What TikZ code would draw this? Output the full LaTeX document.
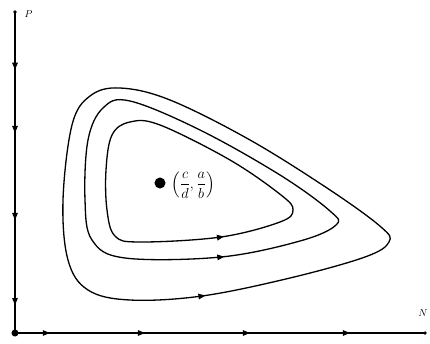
\documentclass[tikz,border=0pt]{standalone}
\usepackage{amsmath,amssymb}
\usepackage{tikz}
\usetikzlibrary{arrows.meta, decorations.markings, calc}

\begin{document}
\begin{tikzpicture}[
    x=0.035cm, y=-0.035cm,
    axis/.style={draw, line width=1.1pt},
    orbit/.style={draw, line width=1.3pt},
    flowtip/.style={postaction={decorate, decoration={markings, mark=at position #1 with {\arrow{Triangle[length=7pt, width=5.5pt]}}}}},
    dotmark/.style={circle, fill=black, inner sep=0pt, minimum size=#1}
]
    \useasboundingbox (0,0) rectangle (430,344);

    % axes
    \coordinate (O) at (15,333);
    \coordinate (Ptop) at (15,12);
    \coordinate (Nend) at (425,333);
    \draw[axis, flowtip=0.18, flowtip=0.377, flowtip=0.648, flowtip=0.913] (Ptop) -- (O);
    \draw[axis, flowtip=0.085, flowtip=0.317, flowtip=0.573, flowtip=0.817] (O) -- (Nend);
    \node[dotmark=7pt] (origin) at (O) {};
    \node[dotmark=3.5pt] (ptip) at (Ptop) {};
    \node[dotmark=3.5pt] (ntip) at (Nend) {};
    \node[font=\normalsize, right=1pt] (plabel) at (20,14) {$P$};
    \node[font=\normalsize, anchor=east] (nlabel) at (431,313) {$N$};

    % closed orbits
    \draw[orbit, flowtip=0.004] plot[smooth cycle, tension=0.6] coordinates {
        (130,300) (202,296) (290,278) (365,257) (389,242) (381,227) (330,190) (250,140)
        (170,100) (120,88) (90,96) (72,125) (63,200) (68,260) (88,290)};
    \draw[orbit, flowtip=0.005] plot[smooth cycle, tension=0.6] coordinates {
        (125,258) (221,257) (300,241) (336,225) (330,211) (280,175) (200,130) (130,101)
        (103,108) (88,140) (85,200) (92,240)};
    \draw[orbit, flowtip=0.006] plot[smooth cycle, tension=0.6] coordinates {
        (140,242) (221,237) (280,222) (293,210) (281,195) (230,160) (160,125) (130,122)
        (112,135) (106,170) (107,210) (115,236)};

    % equilibrium point
    \node[dotmark=11pt] (fixpt) at (160,183) {};
    \node[anchor=west, font=\Large] (fixlabel) at (168,185)
        {$\left(\dfrac{c}{d},\dfrac{a}{b}\right)$};
\end{tikzpicture}
\end{document}
